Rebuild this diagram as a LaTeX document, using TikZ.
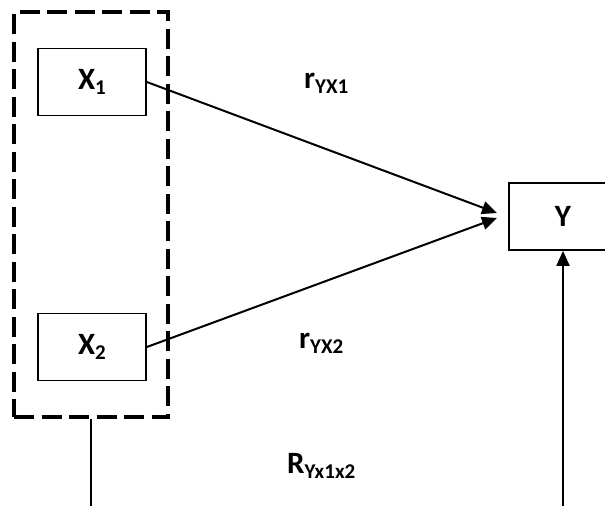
\documentclass[tikz,border=0pt]{standalone}
\usepackage{fontspec}
\setmainfont{Carlito}
\usetikzlibrary{arrows.meta}

\newcommand{\lowsub}[1]{\raisebox{-5pt}{\fontsize{21}{21}\selectfont #1}}

\tikzset{
  varbox/.style={draw, line width=1.7pt, minimum width=108pt, minimum height=67pt, inner sep=0pt},
  grpbox/.style={draw, line width=4pt, dash pattern=on 20pt off 7.5pt, minimum width=154pt, minimum height=405pt, inner sep=0pt},
  lbl/.style={anchor=base west, inner sep=0pt},
  conn/.style={line width=2pt, -{Triangle[length=15pt,width=13pt]}}
}

\begin{document}
\begin{tikzpicture}[x=1pt, y=-1pt, font=\bfseries\fontsize{31}{33}\selectfont]
  \useasboundingbox (0,0) rectangle (605,506);
  \clip (0,0) rectangle (605,506);

  % kotak variabel bebas
  \node[grpbox] (grp) at (91,214.5) {};
  \node[varbox] (x1) at (92,82) {X\lowsub{1}};
  \node[varbox] (x2) at (92,347) {X\lowsub{2}};
  % variabel terikat
  \node[varbox] (y) at (563,216.5) {Y};

  \coordinate (yin1) at (497,213);
  \coordinate (yin2) at (497,218);
  \coordinate (gbot) at (91,506);
  \coordinate (ybot) at (563,506);

  \draw[conn] (x1.east) -- (yin1);
  \draw[conn] (x2.east) -- (yin2);
  \draw[line width=1.7pt] (grp.south) -- (gbot);
  \draw[conn] (ybot) -- (y.south);

  % koefisien korelasi
  \node[lbl] (r1) at (304,88) {r\lowsub{YX1}};
  \node[lbl] (r2) at (299,348) {r\lowsub{YX2}};
  \node[lbl, fill=white] (r12) at (287,473) {R\lowsub{Yx1x2}};
\end{tikzpicture}
\end{document}
